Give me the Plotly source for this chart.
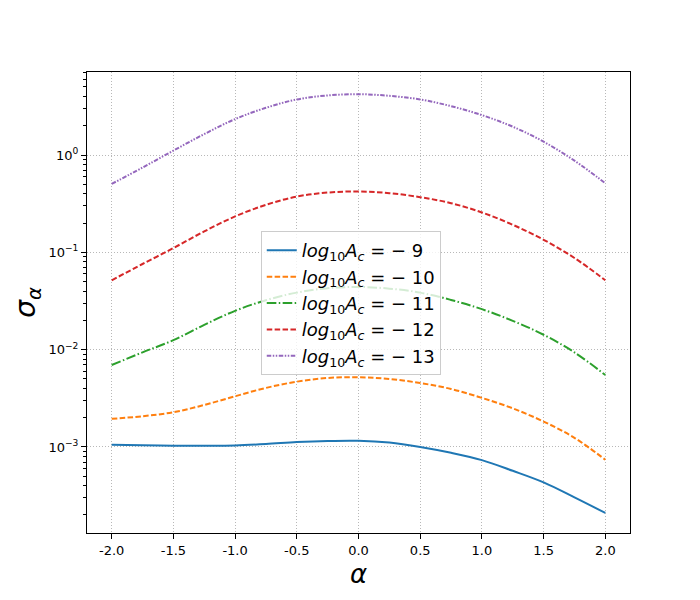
import numpy as np
import plotly.graph_objects as go

# -----------------------------
# Data (stored as log10 of sigma_alpha)
# -----------------------------
alpha = [-2.0, -1.75, -1.5, -1.25, -1.0, -0.75, -0.5, -0.25, 0.0,
         0.25, 0.5, 0.75, 1.0, 1.25, 1.5, 1.75, 2.0]

log_sigma_m9 = [-2.976, -2.982, -2.987, -2.987, -2.984, -2.970, -2.950, -2.938, -2.936,
                -2.955, -3.000, -3.060, -3.135, -3.245, -3.364, -3.518, -3.678]
log_sigma_m10 = [-2.711, -2.684, -2.643, -2.568, -2.479, -2.393, -2.329, -2.291, -2.283,
                 -2.302, -2.343, -2.404, -2.496, -2.603, -2.739, -2.906, -3.132]
log_sigma_m11 = [-2.158, -2.028, -1.902, -1.745, -1.601, -1.492, -1.414, -1.369, -1.356,
                 -1.373, -1.414, -1.489, -1.584, -1.704, -1.847, -2.028, -2.261]
log_sigma_m12 = [-1.287, -1.120, -0.956, -0.785, -0.631, -0.512, -0.427, -0.386, -0.375,
                 -0.392, -0.433, -0.495, -0.590, -0.717, -0.871, -1.058, -1.287]
log_sigma_m13 = [-0.297, -0.129, 0.045, 0.215, 0.369, 0.485, 0.571, 0.612, 0.625,
                 0.608, 0.571, 0.502, 0.410, 0.291, 0.137, -0.058, -0.290]

series = [
    ("− 9", log_sigma_m9, "#1f77b4", "solid"),
    ("− 10", log_sigma_m10, "#ff7f0e", "5.5px,2.4px"),
    ("− 11", log_sigma_m11, "#2ca02c", "9.6px,2.4px,1.5px,2.4px"),
    ("− 12", log_sigma_m12, "#d62728", "5.5px,2.4px"),
    ("− 13", log_sigma_m13, "#9467bd", "4.5px,1.5px,1.5px,1.5px,1.5px,1.5px"),
]

x_ticks = [-2.0, -1.5, -1.0, -0.5, 0.0, 0.5, 1.0, 1.5, 2.0]
y_ticks = [1e-3, 1e-2, 1e-1, 1e0]
y_tick_text = ["10<sup>−3</sup>", "10<sup>−2</sup>", "10<sup>−1</sup>", "10<sup>0</sup>"]
y_minor = [m * 10.0 ** e for e in range(-4, 1) for m in range(2, 10)]

fig = go.Figure()

for label, vals, color, dash in series:
    fig.add_trace(
        go.Scatter(
            x=alpha,
            y=10.0 ** np.array(vals),
            mode="lines",
            line=dict(color=color, width=2, dash=dash, shape="spline", smoothing=1.0),
            name=f"<i>log</i><sub>10</sub><i>A</i><sub><i>c</i></sub> = {label}",
        )
    )

fig.update_layout(
    width=700,
    height=600,
    paper_bgcolor="white",
    plot_bgcolor="white",
    margin=dict(l=87, r=70, t=72, b=67),
    font=dict(family="DejaVu Sans", size=13, color="black"),
    legend=dict(
        x=0.32,
        y=0.655,
        xanchor="left",
        yanchor="top",
        bgcolor="rgba(255,255,255,0.8)",
        bordercolor="#cccccc",
        borderwidth=1,
        font=dict(size=18),
        tracegroupgap=0,
    ),
    showlegend=True,
)

fig.update_xaxes(
    range=[-2.2, 2.2],
    tickvals=x_ticks,
    ticktext=[f"{v:.1f}" for v in x_ticks],
    ticks="outside",
    ticklen=5,
    tickcolor="black",
    showline=True,
    linecolor="black",
    linewidth=1,
    mirror=True,
    showgrid=True,
    gridcolor="#b8b8b8",
    griddash="1px,2px",
    gridwidth=1,
    zeroline=False,
    title=dict(text="<i>α</i>", font=dict(size=26), standoff=8),
)

fig.update_yaxes(
    type="log",
    range=[-3.884, 0.853],
    tickvals=y_ticks,
    ticktext=y_tick_text,
    ticks="outside",
    ticklen=5,
    tickcolor="black",
    showline=True,
    linecolor="black",
    linewidth=1,
    mirror=True,
    showgrid=True,
    gridcolor="#b8b8b8",
    griddash="1px,2px",
    gridwidth=1,
    zeroline=False,
    minor=dict(tickvals=y_minor, ticks="outside", ticklen=3, tickcolor="black", showgrid=False),
    title=dict(text="<i>σ</i><sub><i>α</i></sub>", font=dict(size=28), standoff=4),
)

fig.write_html(
    "out.html",
    config={"displayModeBar": False},
    post_script="document.body.style.margin='0';",
)
